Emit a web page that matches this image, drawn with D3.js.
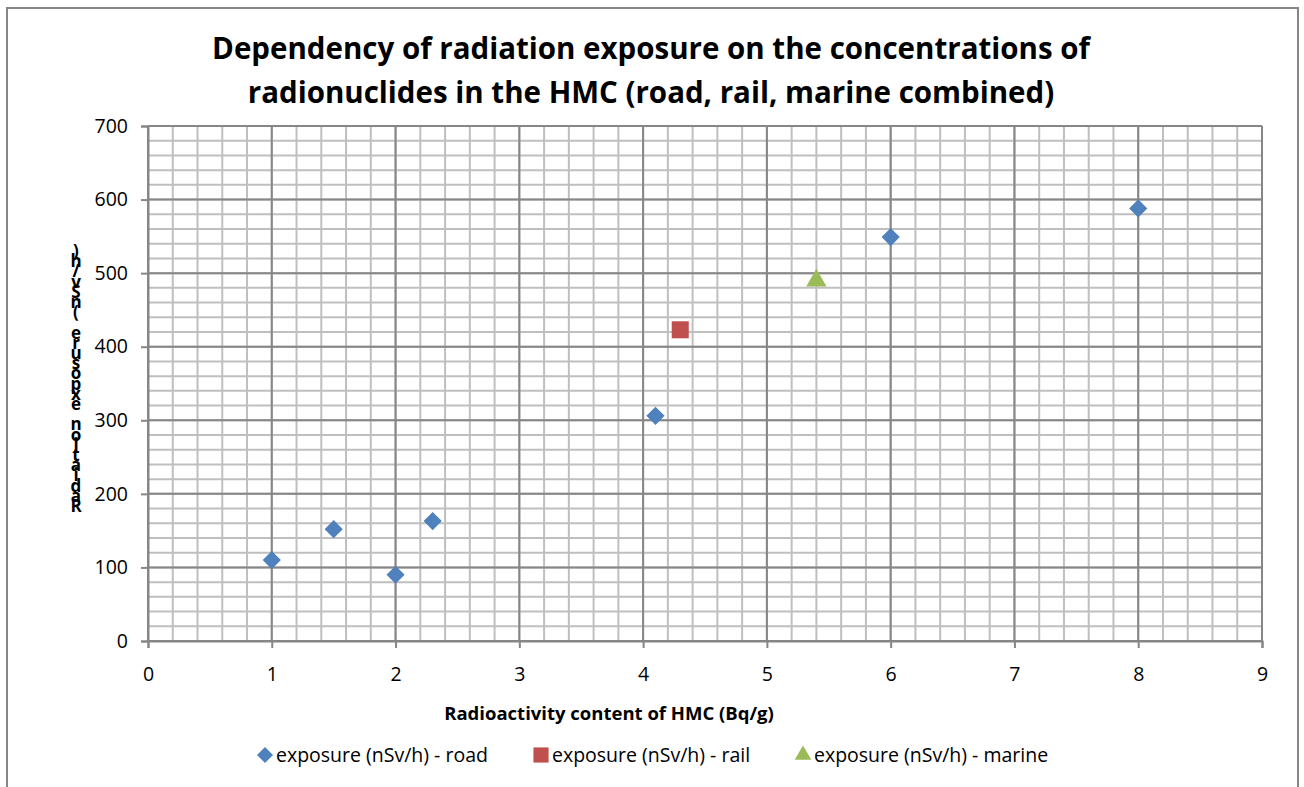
<!DOCTYPE html>
<html>
<head>
<meta charset="utf-8">
<script src="https://cdn.jsdelivr.net/npm/d3@7"></script>
<style>
  body { margin:0; background:#fff; }
  svg { font-family: "Open Sans", Lato, sans-serif; }
</style>
</head>
<body>
<svg id="chart" width="1304" height="787"></svg>
<script>
// data
var road_x = [1, 1.5, 2, 2.3, 4.1, 6, 8];
var road_y = [110, 152, 90, 163, 306, 549, 588];
var rail_x = [4.3];
var rail_y = [423];
var marine_x = [5.4];
var marine_y = [490];
var series_names = ["exposure (nSv/h) - road", "exposure (nSv/h) - rail", "exposure (nSv/h) - marine"];
var x_ticks = [0,1,2,3,4,5,6,7,8,9];
var y_ticks = [0,100,200,300,400,500,600,700];

var svg = d3.select("#chart");
var left = 148, right = 1262, top_ = 126, bottom = 641;

var x = d3.scaleLinear().domain([0, 9]).range([left, right]);
var y = d3.scaleLinear().domain([0, 700]).range([bottom, top_]);

// outer chart border
svg.append("rect")
  .attr("x", 7).attr("y", 8).attr("width", 1291).attr("height", 800)
  .attr("fill", "none").attr("stroke", "#868686").attr("stroke-width", 2);

// title
var title = svg.append("text")
  .attr("text-anchor", "middle")
  .attr("font-size", 29.5).attr("font-weight", "bold");
title.append("tspan").attr("x", 651).attr("y", 59).text("Dependency of radiation exposure on the concentrations of");
title.append("tspan").attr("x", 651).attr("y", 103).text("radionuclides in the HMC (road, rail, marine combined)");

// minor grid
var grid = svg.append("g");
d3.range(0, 9.001, 0.2).forEach(function(v){
  grid.append("line").attr("x1", x(v)).attr("x2", x(v)).attr("y1", top_).attr("y2", bottom)
    .attr("stroke", "#bfbfbf").attr("stroke-width", 2);
});
d3.range(0, 701, 20).forEach(function(v){
  grid.append("line").attr("x1", left).attr("x2", right).attr("y1", y(v)).attr("y2", y(v))
    .attr("stroke", "#bfbfbf").attr("stroke-width", 2);
});
// major grid
x_ticks.forEach(function(v){
  grid.append("line").attr("x1", x(v)).attr("x2", x(v)).attr("y1", top_).attr("y2", bottom)
    .attr("stroke", "#868686").attr("stroke-width", 2);
});
y_ticks.forEach(function(v){
  grid.append("line").attr("x1", left).attr("x2", right).attr("y1", y(v)).attr("y2", y(v))
    .attr("stroke", "#868686").attr("stroke-width", 2);
});

// axes
var xAxis = svg.append("g").attr("transform", "translate(0," + bottom + ")")
  .call(d3.axisBottom(x).tickValues(x_ticks).tickSize(7).tickPadding(19).tickFormat(d3.format("d")));
var yAxis = svg.append("g").attr("transform", "translate(" + left + ",0)")
  .call(d3.axisLeft(y).tickValues(y_ticks).tickSize(7).tickPadding(13).tickFormat(d3.format("d")));
[xAxis, yAxis].forEach(function(a){
  a.select(".domain").attr("stroke", "#868686").attr("stroke-width", 2);
  a.selectAll(".tick line").attr("stroke", "#868686").attr("stroke-width", 2);
  a.selectAll(".tick text").attr("font-size", 19.5).attr("fill", "#000")
    .attr("font-family", "'Open Sans', Lato, sans-serif");
});

// axis titles
svg.append("text")
  .attr("x", 609).attr("y", 720).attr("text-anchor", "middle")
  .attr("font-size", 18.5).attr("font-weight", "bold")
  .text("Radioactivity content of HMC (Bq/g)");

// stacked vertical y title (characters upright, bottom to top)
var ytitle = "Radiation exposure (nSv/h)";
var ychars = ytitle.split("");
var yt = svg.append("g").attr("font-size", 17).attr("font-weight", "bold");
ychars.forEach(function(c, i){
  yt.append("text")
    .attr("x", 76).attr("y", 512 - i * 10.2)
    .attr("text-anchor", "middle")
    .text(c);
});

// markers
var colors = ["#4F81BD", "#C0504D", "#9BBB59"];
var diamond = d3.symbol().type(d3.symbolSquare).size(165)();
var square = d3.symbol().type(d3.symbolSquare).size(290)();
var triangle = d3.symbol().type(d3.symbolTriangle).size(180)();

function plot(xs, ys, path, col, rot){
  svg.append("g").selectAll("path")
    .data(xs.map(function(v, i){ return [v, ys[i]]; }))
    .enter().append("path")
    .attr("d", path)
    .attr("fill", col)
    .attr("transform", function(d){ return "translate(" + x(d[0]) + "," + y(d[1]) + ") rotate(" + rot + ")"; });
}
plot(road_x, road_y, diamond, colors[0], 45);
plot(rail_x, rail_y, square, colors[1], 0);
plot(marine_x, marine_y, triangle, colors[2], 0);

// legend
var legend_x = [265, 541, 803];
var legend_path = [
  d3.symbol().type(d3.symbolSquare).size(128)(),
  d3.symbol().type(d3.symbolSquare).size(230)(),
  d3.symbol().type(d3.symbolTriangle).size(120)()
];
var legend_rot = [45, 0, 0];
series_names.forEach(function(n, i){
  var g = svg.append("g").attr("transform", "translate(" + legend_x[i] + ",755)");
  g.append("path").attr("d", legend_path[i]).attr("fill", colors[i])
    .attr("transform", "rotate(" + legend_rot[i] + ")");
  g.append("text").attr("x", 11).attr("y", 7).attr("font-size", 19.5).text(n);
});
</script>
</body>
</html>
